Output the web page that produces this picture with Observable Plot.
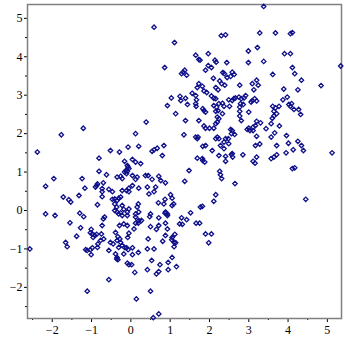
<!DOCTYPE html>
<html>
<head>
<meta charset="utf-8">
<script src="https://cdn.jsdelivr.net/npm/d3@7"></script>
<script src="https://cdn.jsdelivr.net/npm/@observablehq/plot@0.6"></script>
<style>
  html, body { margin: 0; padding: 0; background: #fff; }
</style>
</head>
<body>
<div id="chart"></div>
<script>
const xTicks = [-2, -1, 0, 1, 2, 3, 4, 5];
const yTicks = [-2, -1, 0, 1, 2, 3, 4, 5];
const xMinorTicks = [-2.5, -1.5, -0.5, 0.5, 1.5, 2.5, 3.5, 4.5];
const yMinorTicks = [-2.5, -1.5, -0.5, 0.5, 1.5, 2.5, 3.5, 4.5];

const upperCluster = [
[0.59,4.77],[1.11,4.37],[2.30,4.55],[2.41,4.57],[1.65,4.04],[1.73,3.93],[1.76,3.91],[1.97,4.08],[2.14,3.91],[2.17,3.86],[2.44,3.85],[1.97,3.77],[2.05,3.72],[1.90,3.65],[0.86,3.72],[1.33,3.60],[1.37,3.65],[1.42,3.52],[1.29,3.56],[2.34,3.59],[2.38,3.56],[2.58,3.60],[2.63,3.54],[2.54,3.49],[2.10,3.44],[2.26,3.37],[2.31,3.30],[2.45,3.46],[1.73,3.30],[1.82,3.23],[1.69,3.20],[2.39,3.26],[2.16,3.20],[2.22,3.14],[1.86,3.11],[1.93,3.07],[1.56,3.05],[2.05,2.98],[2.11,2.92],[1.65,2.99],[1.67,2.88],[1.65,2.78],[1.03,2.93],[1.25,2.97],[1.27,2.86],[1.39,2.92],[0.93,2.73],[1.44,2.76],[2.16,2.91],[2.11,2.73],[2.18,2.69],[2.24,2.78],[2.33,2.79],[2.37,2.71],[2.49,2.88],[2.62,2.91],[1.83,2.65],[1.66,2.71],[2.51,2.71],
[3.38,5.31],[3.28,4.62],[3.68,4.62],[4.06,4.60],[4.11,4.63],[2.99,4.15],[3.22,4.24],[3.91,4.08],[4.06,4.08],[2.99,3.85],[3.38,3.88],[4.11,3.72],[4.17,3.56],[5.34,3.76],[3.61,3.54],[4.34,3.39],[3.20,3.39],[3.09,3.30],[3.24,3.26],[2.77,3.26],[4.84,3.25],[3.13,3.14],[3.89,3.16],[4.25,3.14],[2.66,2.93],[2.75,2.95],[2.81,2.91],[2.88,2.93],[2.92,2.99],[3.09,2.86],[3.15,2.91],[3.20,2.85],[3.06,2.82],[3.98,2.95],[3.87,2.88],[4.02,2.76],[4.09,2.78],[4.06,2.71],[2.79,2.78],[2.86,2.76],[2.77,2.69],[2.58,2.86],[3.61,2.71],[3.68,2.67],[3.77,2.71],[4.15,2.63],[4.27,2.63],
[3.00,2.56],[2.77,2.58],[2.77,2.46],[2.81,2.34],[3.64,2.58],[3.71,2.52],[3.64,2.46],[3.60,2.40],[4.32,2.50],[2.96,2.11],[3.03,2.08],[3.11,2.08],[3.00,2.14],[3.20,2.32],[3.30,2.28],[3.17,2.21],[3.11,2.17],[3.44,2.13],[3.57,2.26],[3.78,2.20],[3.66,2.02],[3.57,1.91],[3.20,1.93],[2.58,2.08],[2.64,1.98],[2.56,2.00],[3.96,1.95],[4.25,1.80],[3.17,1.69],[3.28,1.73],[4.01,1.75],[4.34,1.69],[3.71,1.69],[4.39,1.56],[4.13,1.58],[3.95,1.50],[3.71,1.45],[3.64,1.39],[3.57,1.35],[2.58,1.48],[2.56,1.46],[2.85,1.45],[3.20,1.39],[3.11,1.28],[3.16,1.23],[5.12,1.50],[4.11,1.09],[4.17,1.11],[2.65,0.70],[4.45,0.29],
[1.86,2.60],[1.90,2.56],[2.16,2.58],[2.22,2.60],[2.33,2.52],[2.20,2.43],[2.24,2.39],[1.14,2.52],[1.39,2.34],[1.73,2.34],[0.39,2.30],[2.20,2.30],[2.16,2.26],[1.86,2.20],[1.90,2.14],[2.00,2.14],[2.11,2.14],[2.54,2.11],[1.35,1.97],[1.65,1.91],[1.71,1.91],[1.69,1.87],[0.12,2.00],[2.20,1.91],[2.24,1.87],[2.16,1.87],[2.41,1.87],[2.37,1.78],[2.28,1.69],[2.37,1.61],[2.48,1.87],[2.49,1.74],[1.90,1.69],[1.83,1.67],[2.07,1.56],[1.69,1.36],[1.82,1.35],[1.88,1.26],[1.83,1.30],[2.24,1.43],[2.41,1.41],[2.59,1.39],[2.41,1.28],[1.48,1.04],[2.26,1.02],[2.28,0.93],[2.31,0.83],[1.37,0.76],[2.16,0.41],[2.11,0.24],[1.82,0.11],[1.77,0.09]
];

const lowerCluster = [
[0.84,1.69],[0.67,1.62],[0.59,1.58],[0.54,1.54],[0.80,1.43],[0.20,1.67],[-0.07,1.65],[0.04,1.33],[0.12,1.26],[0.25,1.22],[-0.07,1.13],[-0.09,1.17],[-0.13,1.04],[0.04,0.91],[0.16,0.87],[0.12,0.81],[0.37,0.91],[0.44,0.91],[0.54,0.81],[0.71,0.89],[0.76,0.78],[0.88,0.72],[0.04,0.65],[0.20,0.58],[-0.05,0.49],[0.42,0.61],[0.46,0.43],[0.59,0.49],[0.63,0.61],[1.01,0.41],[1.05,0.32],[0.87,0.29],[0.70,0.20],[0.19,0.17],[0.16,0.09],[0.20,-0.04],[0.12,-0.09],[1.09,0.17],[1.05,0.13],[0.84,0.17],[1.52,-0.06],[0.88,-0.04],[0.93,-0.09],[0.50,-0.09],
[-1.21,2.14],[-1.77,1.97],[-2.38,1.52],[-0.52,1.56],[-0.29,1.52],[-0.81,1.36],[-0.16,1.28],[-0.05,1.09],[-0.09,1.02],[-0.16,1.00],[-0.11,0.96],[-0.81,1.02],[-0.62,0.93],[-0.35,0.87],[-0.26,0.89],[-0.22,0.83],[-1.96,0.83],[-1.24,0.83],[-1.17,0.58],[-2.17,0.63],[-0.85,0.69],[-0.90,0.61],[-0.87,0.65],[-0.70,0.72],[-0.56,0.55],[-0.47,0.49],[-0.73,0.57],[-0.73,0.49],[-0.73,0.36],[-0.22,0.52],[-0.11,0.52],[-0.05,0.58],[-1.72,0.35],[-1.58,0.28],[-1.53,0.22],[-1.32,0.39],[-0.47,0.29],[-0.41,0.30],[-0.35,0.26],[-0.31,0.32],[-0.26,0.35],[-0.41,0.17],[-0.36,0.09],[-0.41,0.00],[-0.35,-0.04],[-0.31,-0.09],[-0.85,0.15],[-1.30,-0.07],[-2.17,-0.09],[-0.22,0.13],[-0.18,0.03],[-0.26,-0.06],[-0.09,-0.04],[-0.05,0.04],
[-1.93,-0.13],[-1.20,-0.16],[-1.55,-0.32],[-1.28,-0.45],[-1.38,-0.67],[-1.66,-0.83],[-1.62,-0.94],[-2.57,-1.00],[-1.01,-0.49],[-1.03,-0.58],[-0.98,-0.61],[-0.92,-0.65],[-0.87,-0.62],[-0.96,-0.70],[-0.73,-0.39],[-0.70,-0.22],[-0.67,-0.17],[-0.75,-0.61],[-0.69,-0.74],[-0.77,-0.78],[-0.84,-0.87],[-0.85,-0.96],[-1.15,-1.02],[-1.11,-1.04],[-1.03,-1.02],[-0.98,-0.97],[-1.01,-1.15],[-0.56,-1.04],[-0.22,-0.13],[-0.09,-0.13],[-0.29,-0.39],[-0.18,-0.35],[-0.09,-0.39],[-0.05,-0.59],[-0.08,-0.70],[-0.52,-0.83],[-0.45,-0.87],[-0.35,-0.78],[-0.31,-0.96],[-0.26,-0.83],[-0.22,-0.91],[-0.16,-0.96],[-0.11,-0.97],[-0.39,-0.57],[-0.33,-0.68],[-0.28,-0.74],[-0.39,-1.13],[-0.35,-1.22],[-0.33,-1.28],[-0.36,-1.26],[-0.18,-1.13],[-0.09,-1.37],[-0.05,-1.41],[-0.56,-1.80],[-1.11,-2.10],
[0.12,-0.17],[0.20,-0.26],[0.12,-0.33],[0.19,-0.33],[0.27,-0.26],[0.48,-0.16],[0.71,-0.19],[0.87,-0.07],[0.93,-0.13],[0.88,-0.33],[1.29,-0.19],[1.42,-0.24],[0.50,-0.42],[0.71,-0.39],[0.65,-0.49],[1.24,-0.35],[1.31,-0.36],[1.66,-0.33],[1.75,-0.33],[0.08,-0.48],[0.93,-0.48],[0.88,-0.65],[1.05,-0.70],[1.12,-0.62],[1.04,-0.76],[1.10,-0.83],[1.14,-0.84],[1.10,-0.94],[0.81,-0.80],[0.44,-0.74],[1.90,-0.61],[2.05,-0.61],[1.98,-0.84],[-0.07,-1.02],[0.04,-0.97],[0.19,-1.09],[0.04,-1.15],[0.42,-1.00],[0.59,-1.00],[1.05,-1.22],[0.53,-1.30],[0.02,-1.41],[0.74,-1.41],[0.95,-1.35],[1.16,-1.46],[0.42,-1.54],[0.10,-1.61],[0.71,-1.59],[0.65,-1.65],[0.95,-1.54],[0.50,-2.10],[0.14,-2.30],[0.71,-2.69],[0.57,-2.79]
];

const points = [...upperCluster, ...lowerCluster].map(([x, y]) => ({x, y}));

const minusFormat = d => d < 0 ? "\u2212" + Math.abs(d) : String(d);

const chart = Plot.plot({
  width: 345,
  height: 345,
  marginLeft: 27,
  marginRight: 4,
  marginTop: 4,
  marginBottom: 27,
  x: {domain: [-2.63, 5.36]},
  y: {domain: [-2.81, 5.36]},
  style: {fontFamily: "Liberation Serif", fontSize: "12px", background: "#fff", color: "#000"},
  marks: [
    Plot.axisX({ticks: xTicks, tickSize: 4, tickPadding: 3, label: null, tickFormat: minusFormat}),
    Plot.axisX({ticks: xMinorTicks, tickSize: 2, tickFormat: () => "", label: null}),
    Plot.axisY({ticks: yTicks, tickSize: 3, tickPadding: 2, label: null, tickFormat: minusFormat}),
    Plot.axisY({ticks: yMinorTicks, tickSize: 2, tickFormat: () => "", label: null}),
    Plot.frame({stroke: "#808080", strokeWidth: 1.5}),
    Plot.dot(points, {x: "x", y: "y", symbol: "diamond2", r: 2.0, stroke: "#10108a", strokeWidth: 1.3})
  ]
});
document.getElementById("chart").appendChild(chart);
</script>
</body>
</html>
